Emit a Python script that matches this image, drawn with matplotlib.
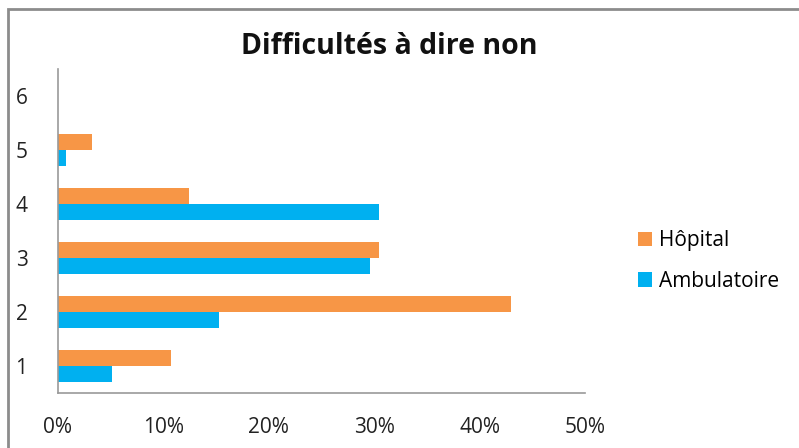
import matplotlib.pyplot as plt
from matplotlib.patches import Rectangle
import numpy as np

plt.rcParams['font.family'] = ['Open Sans', 'DejaVu Sans']

# données
categories = ['1', '2', '3', '4', '5', '6']
hopital = [10.7, 43.0, 30.5, 12.4, 3.2, 0]
ambulatoire = [5.1, 15.3, 29.6, 30.5, 0.8, 0]
x_ticks = [0, 10, 20, 30, 40, 50]

fig = plt.figure(figsize=(7.99, 4.48), dpi=100)
ax = fig.add_axes([58 / 799, 55 / 448, 527 / 799, 324 / 448])

y = np.arange(1, len(categories) + 1)
h = 0.296
ax.barh(y + h / 2, hopital, height=h, color='#F79646', label='Hôpital')
ax.barh(y - h / 2, ambulatoire, height=h, color='#00B0F0', label='Ambulatoire')

ax.set_xlim(0, 50)
ax.set_ylim(0.5, 6.5)
ax.set_yticks(y)
ax.set_yticklabels(categories)
ax.set_xticks(x_ticks)
ax.set_xticklabels([f'{v}%' for v in x_ticks])
ax.tick_params(axis='both', length=0, labelsize=15, colors='#222222')
ax.tick_params(axis='x', pad=17)
ax.tick_params(axis='y', pad=22)

for s in ['top', 'right']:
    ax.spines[s].set_visible(False)
for s in ['left', 'bottom']:
    ax.spines[s].set_color('#999999')
    ax.spines[s].set_linewidth(1.2)

fig.text(389 / 799, 1 - 47 / 448, 'Difficultés à dire non', ha='center', va='center',
         fontsize=20.5, fontweight='bold', color='#111111')

handles, labels = ax.get_legend_handles_labels()
fig.legend(handles, labels, loc='center left', bbox_to_anchor=(619 / 799, 1 - 261 / 448),
           frameon=False, fontsize=15, handlelength=0.7, handleheight=0.7,
           handletextpad=0.3, labelspacing=0.95)

# cadre extérieur
fig.patches.append(Rectangle((8 / 799, -0.1), 1.0, 1 - 9 / 448 + 0.1, transform=fig.transFigure,
                             fill=False, edgecolor='#8c8c8c', linewidth=2))

fig.savefig('out.png', dpi=100)
